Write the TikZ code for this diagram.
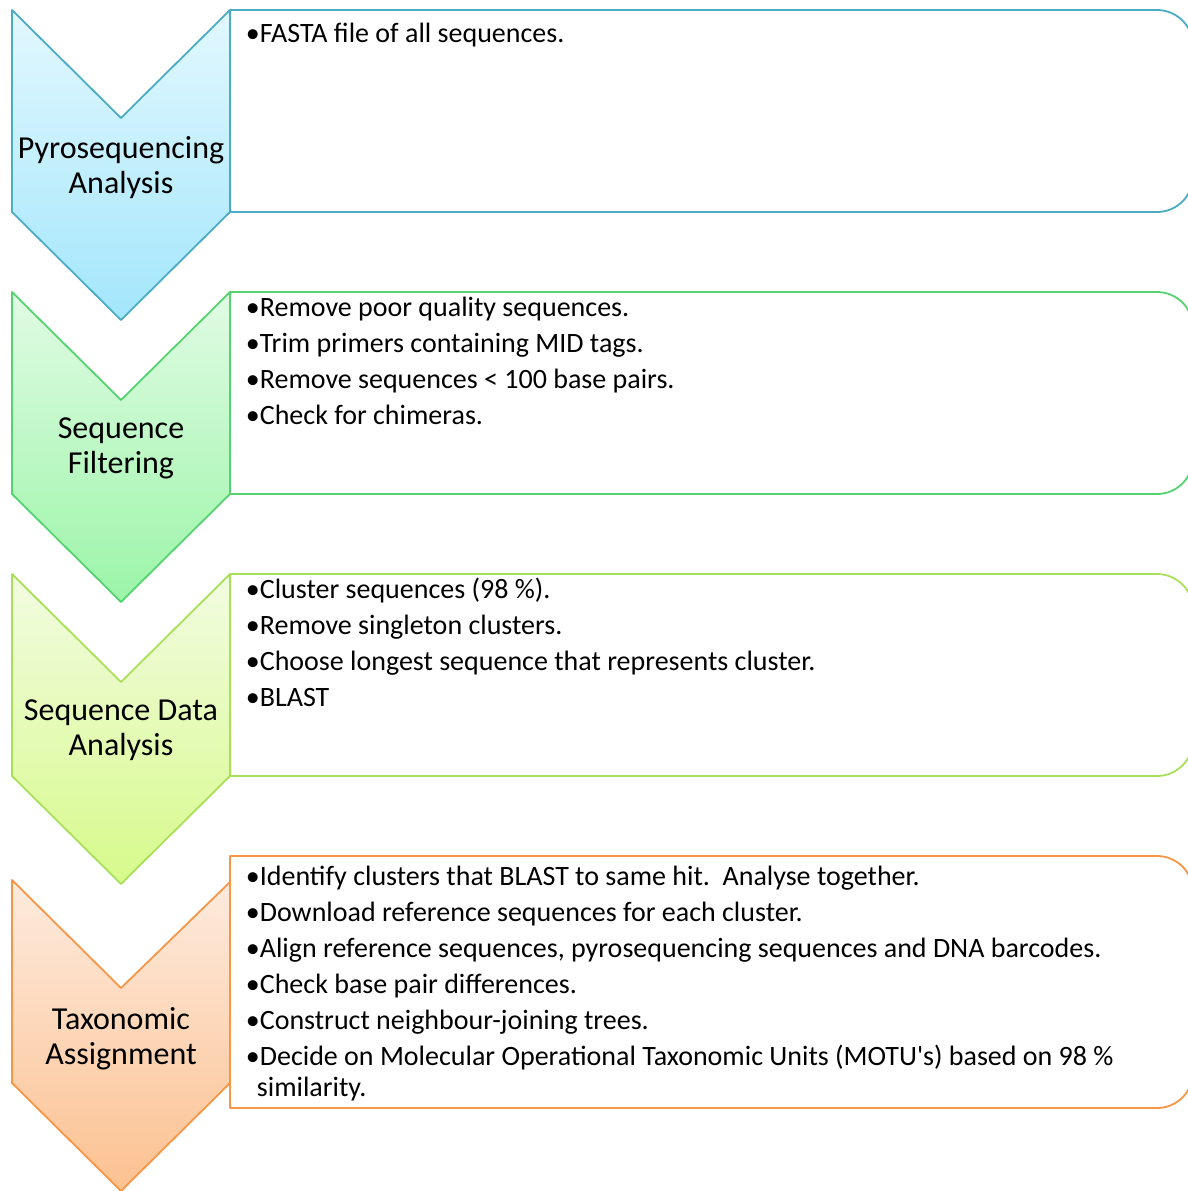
\documentclass[tikz,border=0pt]{standalone}
\usepackage{fontspec}
\setmainfont{Carlito}
\definecolor{aqualine}{HTML}{4BACC6}
\definecolor{aquatop}{HTML}{E2F8FE}
\definecolor{aquabot}{HTML}{A3E6FC}
\definecolor{greenline}{HTML}{55D370}
\definecolor{greentop}{HTML}{E1FBE4}
\definecolor{greenbot}{HTML}{9BF5A8}
\definecolor{limeline}{HTML}{A8E05A}
\definecolor{limetop}{HTML}{F2FCE1}
\definecolor{limebot}{HTML}{D7FA8B}
\definecolor{orangeline}{HTML}{F79646}
\definecolor{orangetop}{HTML}{FDEBDE}
\definecolor{orangebot}{HTML}{FCC190}
\begin{document}
\begin{tikzpicture}[x=1pt, y=1pt, line width=1.8pt, line join=round,
    steplabel/.style={align=center, font=\fontsize{32}{35}\selectfont},
    item/.style={anchor=north west, inner sep=0pt, text height=20pt, text depth=6pt,
        align=left, font=\fontsize{28}{31}\selectfont}]
    \useasboundingbox (0,0) rectangle (1188,-1191);
    % pyrosequencing
    \path[draw=aqualine, top color=aquatop, bottom color=aquabot] (12,-10) -- (121,-118) -- (230,-10) -- (230,-212) -- (121,-320) -- (12,-212) -- cycle;
    \draw[aqualine, fill=white] (230,-10) -- (1157,-10) arc[start angle=90, end angle=0, radius=36] -- (1193,-176) arc[start angle=0, end angle=-90, radius=36] -- (230,-212) -- cycle;
    \node[steplabel] (pyro) at (121,-167.5) {Pyrosequencing\\Analysis};
    \node[item] (pyro1) at (245,-22) {\textbullet FASTA file of all sequences.};
    % filtering
    \path[draw=greenline, top color=greentop, bottom color=greenbot] (12,-292) -- (121,-400) -- (230,-292) -- (230,-494) -- (121,-602) -- (12,-494) -- cycle;
    \draw[greenline, fill=white] (230,-292) -- (1157,-292) arc[start angle=90, end angle=0, radius=36] -- (1193,-458) arc[start angle=0, end angle=-90, radius=36] -- (230,-494) -- cycle;
    \node[steplabel] (filter) at (121,-448.5) {Sequence\\Filtering};
    \node[item] (filt1) at (245,-296) {\textbullet Remove poor quality sequences.};
    \node[item] (filt2) at (245,-332) {\textbullet Trim primers containing MID tags.};
    \node[item] (filt3) at (245,-368) {\textbullet Remove sequences < 100 base pairs.};
    \node[item] (filt4) at (245,-404) {\textbullet Check for chimeras.};
    % data analysis
    \path[draw=limeline, top color=limetop, bottom color=limebot] (12,-574) -- (121,-682) -- (230,-574) -- (230,-776) -- (121,-884) -- (12,-776) -- cycle;
    \draw[limeline, fill=white] (230,-574) -- (1157,-574) arc[start angle=90, end angle=0, radius=36] -- (1193,-740) arc[start angle=0, end angle=-90, radius=36] -- (230,-776) -- cycle;
    \node[steplabel] (data) at (121,-730.5) {Sequence Data\\Analysis};
    \node[item] (data1) at (245,-578) {\textbullet Cluster sequences (98 \%).};
    \node[item] (data2) at (245,-614) {\textbullet Remove singleton clusters.};
    \node[item] (data3) at (245,-650) {\textbullet Choose longest sequence that represents cluster.};
    \node[item] (data4) at (245,-686) {\textbullet BLAST};
    % taxonomy
    \path[draw=orangeline, top color=orangetop, bottom color=orangebot] (12,-880) -- (121,-988) -- (230,-882) -- (230,-1083) -- (121,-1191) -- (12,-1083) -- cycle;
    \draw[orangeline, fill=white] (230,-856) -- (1157,-856) arc[start angle=90, end angle=0, radius=36] -- (1193,-1072) arc[start angle=0, end angle=-90, radius=36] -- (230,-1108) -- cycle;
    \node[steplabel] (taxo) at (121,-1038.5) {Taxonomic\\Assignment};
    \node[item] (taxo1) at (245,-865) {\textbullet Identify clusters that BLAST to same hit.\ \ Analyse together.};
    \node[item] (taxo2) at (245,-901) {\textbullet Download reference sequences for each cluster.};
    \node[item] (taxo3) at (245,-937) {\textbullet Align reference sequences, pyrosequencing sequences and DNA barcodes.};
    \node[item] (taxo4) at (245,-973) {\textbullet Check base pair differences.};
    \node[item] (taxo5) at (245,-1009) {\textbullet Construct neighbour-joining trees.};
    \node[item] (taxo6) at (245,-1076) {\textbullet Decide on Molecular Operational Taxonomic Units (MOTU\textquotesingle s) based on 98 \%\\\hspace*{11pt}similarity.};
\end{tikzpicture}
\end{document}
